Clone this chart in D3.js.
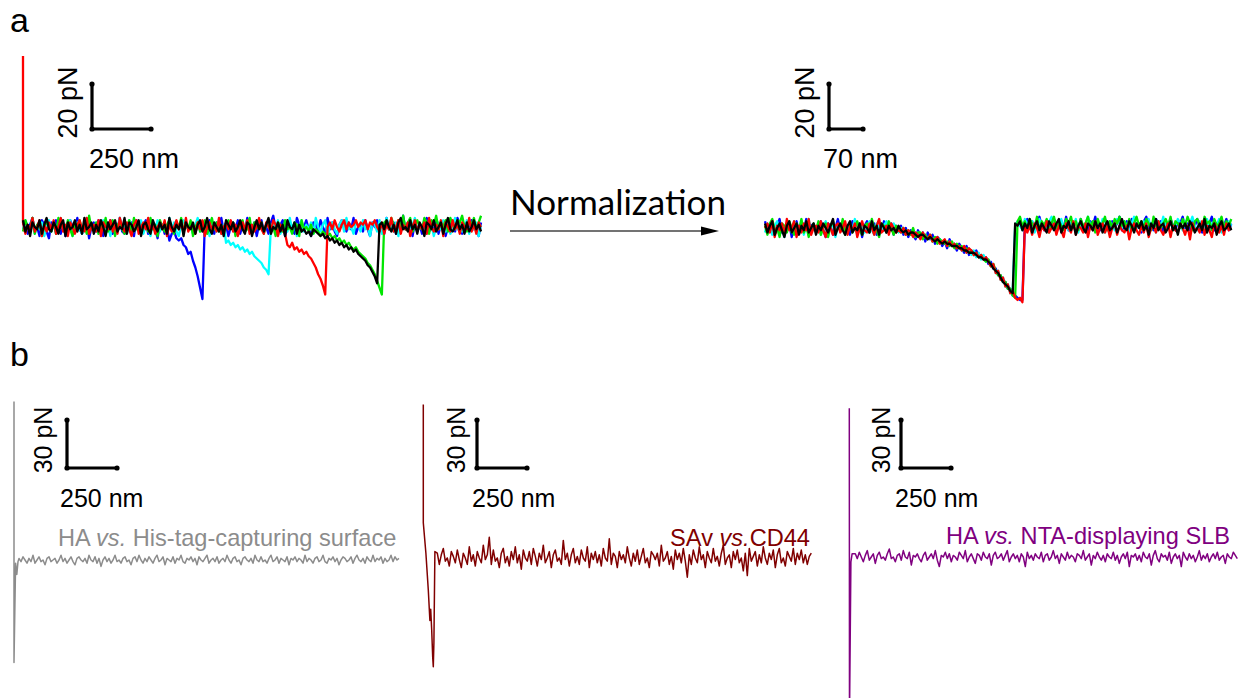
<!DOCTYPE html>
<html lang="en">
<head>
<meta charset="UTF-8">
<title>Force curves - normalization and controls</title>
<script src="https://cdn.jsdelivr.net/npm/d3@7"></script>
<style>
  body { margin: 0; background: #fff; }
  svg { display: block; font-family: "Liberation Sans", Arial, sans-serif; }
  .trace { fill: none; stroke-linejoin: round; }
</style>
</head>
<body>
<svg id="chart" width="1239" height="698"></svg>
<script>
// ---- data (distance in nm, force in pN) ----

// panel a, raw curves: one force value every 10 nm from 0 nm
const aRawStep = 10;
const aRawBlue = [2,-1,-3,1,4,-2,0,-4,3,1, -2,-5,2,0,3,-1,-3,2,-4,1, 3,0,-2,4,-1,-3,1,2,-5,0,
  2,-2,3,-1,-4,1,0,3,-3,2, -1,4,-2,-3,1,0,2,-4,3,-1, -2,1,3,-3,0,2,-1,-5,2,1, -3,0,
  -6,-3,-2,-5,-6,-5,-8,-9,-12,-11,-15,-18,-22,-27,-32,
  1,-2,3,0,-3,2,-1,4,-2,1, -4,0,2,-1,3,-3,1,-2,4,0, -1,2,-4,1,3,-2,0,-3,2,5,
  -1,-2,1,3,-4,0,2,-1,-3,4, 1,-2,0,3,-1,-4,2,1,-2,3, 0,-3,4,-1,2,-2,-4,1,3,0,
  -2,2,-1,4,-3,0,1,-2,3,-1, -4,2,0,3,-2,1,-3,4,-1,0, 2,-3,1,-2,5,-1,0,3,-4,2,
  -1,1,-3,2,4,-2,0,-1,3,-3, 1,2,-4,0,3,-1,-2,4,1,-3, 0,2,-2,3,-1,1,-4,2];
const aRawCyan = [-1,3,0,-2,4,-3,1,-1,2,-4, 0,3,-2,1,-3,2,4,-1,-2,0, 3,-4,1,2,-1,-3,0,4,-2,1,
  -1,2,-3,0,3,-2,1,-4,2,0, -2,4,-1,1,-3,3,0,-2,2,-1, 3,-3,1,0,-4,2,-1,3,-2,1,
  0,-3,4,-1,2,-2,-4,1,3,0, -1,2,-3,1,4,-2,0,-1,3,-4, 2,1,-2,0,-3,1,
  -7,-6,-8,-7,-9,-8,-10,-9,-11,-10,-12,-11,-13,-14,-15,-16,-18,-19,-21,
  0,
  2,-1,3,-3,0,1,-2,4,-1,2, -4,0,3,-2,1,-1,2,-3,4,0, -2,1,3,-4,0,2,-1,-3,1,3,
  -2,4,-1,0,-3,2,1,-2,3,-1, 0,-4,2,1,-2,3,-3,0,4,-1, 1,-2,2,-4,3,0,-1,2,-3,1,
  4,-2,0,-1,3,-3,2,1,-4,0, 2,-1,3,-2,1,-3,0,4,-1,2, -2,0,3,-3,1,-1,2,-4,1];
const aRawRedSpike = [[0, 76]];
const aRawRed = [2,-3,1,-1,4,-2,0,3,-4,1, -2,2,-1,3,-3,0,4,-2,1,-4, 2,0,-3,1,3,-1,-2,4,-3,0,
  1,-2,3,-4,2,0,-1,3,-2,1, -3,4,0,-2,2,-1,-4,1,3,-3, 0,2,-1,4,-2,1,-3,0,2,-1,
  3,-4,1,-2,0,3,-1,2,-3,4, -2,0,1,-3,2,-1,3,-4,0,2, -1,1,-2,4,-3,0,2,-1,3,-2,
  1,-4,0,2,-1,3,-3,1,-2,0, 4,-1,-3,2,0,-2,3,1,-4,1, -1,-3,
  -8,-9,-7,-10,-9,-11,-10,-12,-11,-13,-14,-16,-18,-21,-23,-26,-30,
  0,
  2,-1,3,0,-2,1,3,-1,2,0, 1,3,0,2,1,3,-1,2,1,3, 0,-2,2,-3,1,-1,4,-2,0,3,
  -3,1,-1,2,-4,0,3,-2,1,-1, 2,-3,4,0,-2,1,-1,3,-4,2, 0,-2,3,-1,1,-3,2,0,-1,4, -2,1,-3,2,0];
const aRawGreen = [-2,3,0,-1,4,-3,1,2,-4,0, 3,-1,-2,2,-3,4,0,1,-2,3, -1,-4,2,0,3,-2,1,-3,5,-1,
  0,2,-3,1,-1,4,-2,0,3,-4, 1,2,-1,-3,0,3,-2,4,-1,1, -3,0,2,-2,4,-1,1,-4,3,0,
  -2,1,3,-1,-3,2,0,4,-2,1, -1,3,-4,0,2,-2,1,3,-3,0, 4,-1,2,-2,0,-3,1,3,-1,2,
  -4,0,1,3,-2,-1,4,-3,2,0, -1,2,-3,1,3,-2,0,-4,2,1, -2,3,-1,0,-3,2,1,-4,3,-1,
  0,-2,1,-3,-1,-2,-4,-2,
  -3,-4,-3,-5,-4,-6,-5,-7,-6,-8,-7,-9,-10,-9,-11,-12,-13,-14,-16,-17,-19,-21,-24,-27,-30,
  2,
  3,-1,4,1,-2,3,0,5,-1,2, 4,-2,1,3,0,-1,4,2,-3,3, 1,5,-1,2,0,3,-2,4,1,-1, 3,2,5,0,-2,3,1,4,-1,2, 5];
const aRawBlack = [3,-2,1,-4,2,0,-1,3,-3,1, 4,-1,-2,2,0,-3,1,3,-4,2, -1,0,3,-2,1,-3,4,-1,0,2,
  -3,1,-2,3,0,-4,2,-1,1,3, -2,0,-1,4,-3,2,1,-2,0,3, -4,1,2,-1,-3,3,0,-2,2,-1,
  1,-3,4,0,-2,1,-1,3,-4,2, 0,-1,2,-3,1,3,-2,0,4,-1, -3,2,0,-2,1,-4,3,1,-1,2,
  -2,0,3,-1,-3,2,1,-4,0,3, -1,2,-2,1,4,-3,0,-1,2,-2, 1,-4,3,0,-1,2,-3,1,-2,-1, -3,-2,-4,-1,
  -2,-3,-4,-3,-5,-4,-6,-5,-7,-6,-8,-7,-9,-8,-10,-9,-11,-10,-12,-13,-14,-15,-17,-18,-20,-22,-25,
  1,
  2,-1,3,0,-2,1,-3,2,4,-1, 0,-2,3,-1,1,-3,2,0,-4,2, 1,-1,3,-2,0,2,-3,1,4,-1, -2,0,3,-1,1,-3,2,-2,0,3, -1,1,-2];

// panel a, normalized curves: one force value every 5 nm from 0 nm
const aNormStep = 5;
const aNormBlue = [3,-1,0,2,-3,1,4,-2,0,-1, 2,-4,1,3,-2,0,-1,4,-3,1, 2,-2,0,3,-1,-4,2,1,-3,0,
  4,-1,2,-2,1,-3,3,0,-1,2, -4,1,3,-2,0,2,-3,1,-1,3, -2,0,2,-3,1,-1,
  1,-3,0,-4,-1,-3,-5,-1,-4,-2, -6,-2,-5,-3,-7,-4,-5,-8,-6,-9, -5,-8,-7,-10,-7,-9,-11,-8,-12,-10,
  -12,-10,-13,-12,-14,-13,-16,-15,-18,-18, -21,-21,-24,-24,-27,-27,-30,
  -30,-31,-32,-32,
  2,
  4,0,3,-1,2,5,1,-1,3,0, 2,4,-2,1,3,0,5,-1,2,1, 3,-1,4,0,2,-2,3,1,5,0, -1,2,4,1,-2,3,0,2,5,-1,
  1,3,0,4,-1,2,1,-2,3,5, 0,2,-1,4,1,3,-2,2,0,4, 1,-1,3,2,5,0,2,-1,3,1, 4,0,-2,3,1,2,5,-1,2,0, 3,1,4,-1,2];
const aNormCyan = [-2,2,0,-3,1,3,-1,0,-4,2, 1,-2,3,0,-1,2,-3,1,4,-2, 0,-1,2,-3,1,3,-2,0,2,-4,
  1,-1,3,0,-2,2,-1,4,-3,0, 2,-2,1,3,-1,-3,2,0,-1,1, 3,-2,0,2,-1,-2,
  0,-2,-1,-3,-2,-1,-4,-2,-3,-4, -3,-5,-4,-6,-4,-6,-5,-7,-6,-8, -6,-8,-7,-9,-8,-10,-9,-11,-9,-12,
  -10,-13,-11,-14,-12,-15,-14,-17,-16,-20, -19,-23,-22,-26,-25,-29,-28,
  1,
  3,1,-1,4,2,0,3,-2,1,4, 0,2,-1,3,5,1,-1,2,4,0, 3,-1,2,1,4,-2,3,0,2,5, 1,-1,3,2,0,4,-2,2,3,1,
  -1,4,2,0,3,1,-2,2,5,0, 2,-1,3,1,4,0,2,-2,3,1, 5,0,2,3,-1,1,4,2,-1,3, 0,2,5,1,-1,3,2,0,4,-1, 2,3,1,4,-2,2,0,3,1];
const aNormGreen = [1,-3,2,4,-1,0,-4,2,1,-2, 3,0,-3,2,-1,4,-2,1,-4,0, 2,-1,3,-3,0,2,-4,1,3,-2,
  0,-1,4,-3,1,2,-2,0,3,-1, -3,1,2,-2,4,0,-1,-4,2,1, -2,3,0,-3,1,-1,
  -2,0,-3,-1,-3,0,-4,-2,-2,-5, -3,-5,-3,-6,-4,-7,-5,-6,-7,-6, -8,-6,-9,-7,-9,-8,-10,-9,-11,-10,
  -12,-11,-13,-12,-14,-15,-14,-17,-16,-19, -21,-21,-24,-24,-27,-27,-30,
  -31,
  3,
  5,1,3,-1,4,2,0,5,-1,3, 1,4,-2,2,5,0,3,1,-1,4, 2,5,0,3,-1,4,1,2,5,0, 3,-2,4,1,2,5,-1,3,0,4,
  2,5,1,3,0,4,-1,2,5,1, 3,0,4,2,-1,5,1,3,0,2, 4,1,5,-1,3,2,0,4,1,5, 2,-1,3,4,1,0,5,2,3,-1, 4,1,2,5,0,3,1,4];
const aNormRed = [0,2,-2,3,-4,1,-1,2,-3,4, -1,0,3,-4,1,-2,2,-1,4,-3, 0,1,-2,3,-1,-4,2,0,-3,1,
  2,-2,0,3,-3,1,-1,2,-4,0, 3,-1,-2,2,0,-3,1,4,-2,-1, 1,-3,2,0,-2,-1,
  -2,0,-3,-1,-2,-4,-2,-3,-5,-2, -4,-5,-3,-6,-5,-4,-7,-6,-5,-8, -6,-8,-7,-9,-8,-10,-8,-11,-9,-10,
  -12,-11,-13,-12,-14,-13,-15,-17,-16,-20, -19,-23,-22,-26,-25,-29,-28,
  -31,-32,-31,-33,
  1,
  -2,1,-3,2,0,-4,1,-1,3,-2, 0,2,-3,1,-1,-4,2,0,-2,3, -3,1,0,-2,2,-4,1,-1,3,-3, 0,2,-2,1,-4,0,2,-3,1,-1,
  -2,1,-5,0,2,-1,-3,1,-2,2, -4,0,1,-2,3,-1,-3,0,2,-4, 1,-1,-2,2,0,-3,1,-5,2,-1, 0,-2,3,-3,1,-1,-4,2,0,-2, 1,-3,2,-1,0];
const aNormBlack = [2,-2,1,3,-3,0,2,-1,-4,1, 3,-2,0,2,-3,1,-1,3,-2,0, 2,-3,1,-1,2,0,-2,1,4,-3,
  0,2,-1,-3,1,3,-2,0,-1,2, -3,1,0,-2,3,-1,1,-3,2,0, -2,1,-1,0,-2,1,
  -1,-2,-1,-3,-2,-2,-3,-4,-3,-3, -4,-5,-4,-5,-6,-5,-6,-7,-6,-7, -7,-8,-8,-8,-9,-9,-10,-10,-11,-11,
  -11,-12,-13,-13,-14,-14,-15,-16,-18,-19, -20,-22,-24,-25,-26,-28,-29,
  2,
  1,3,-1,2,0,4,-2,1,3,-1, 2,0,-2,3,1,-1,2,4,-2,1, 0,3,-1,2,-3,1,3,0,-2,2, 1,-1,3,0,2,-2,1,3,-1,0,
  2,-2,1,4,0,-1,3,1,-2,2, 0,3,-1,1,-3,2,0,4,-1,1, 2,-2,0,3,-1,1,-3,2,0,2, -1,3,1,-2,0,2,-1,4,-2,1, 0,2,-3,1,3,-1,0,2,-1];

// panel b: approach head as [nm, pN] pairs, then one value every 10 nm
const bStep = 10;
const bHisHead = [[0, 99], [0, -64], [8, -2], [14, -9], [20, -1]];
const bHisStart = 25;
const bHis = [1,-1,2,0,-2,1,-1,3,-2,0, 2,-1,0,-3,1,2,-1,0,1,-2, 0,3,-1,1,-2,0,2,-1,-3,1,
  2,0,-1,1,-2,3,0,-1,2,-2, 1,-4,0,2,-1,1,-2,0,3,-1, 0,-2,1,2,-1,0,-3,1,2,-1,
  3,0,-2,1,-1,2,0,-2,1,3, -1,0,2,-3,1,0,-1,2,-2,1, 0,3,-1,-2,1,0,2,-1,1,-3,
  2,0,-1,1,3,-2,0,1,-1,2, -2,0,1,-1,3,0,-2,1,2,-1, 0,-3,1,2,0,-1,1,-2,3,0,
  -1,2,-1,0,-2,1,3,-1,0,2, -2,1,0,-1,2,-3,1,0,2,-1, 1,0,-2,3,-1,1,0,-2,1,2,
  -1,0,3,-1,-2,1,0,2,-1,1, -3,0,2,1,-1,0,2,-2,1,3, 0,-1,1,-2,2,0,-1,3,-1,1,
  0,2,-2,1,-1,0,3,-1,2,0, 1];
const bCdHead = [[0, 96], [0, 22], [13, 3], [25, -20], [30, -32], [33, -39], [37, -32], [42, -45], [47, -62], [50, -68], [53, -53], [58, 4]];
const bCdStart = 70;
const bCd = [3,-4,2,6,-2,0,-5,4,1,-3, 5,-1,-6,3,0,-4,7,-2,2,-5, 4,0,-3,8,-1,2,13,-4,5,-2,
  0,-6,3,6,-3,1,-5,4,-1,7, -3,2,-7,5,0,-2,4,-4,6,1, -5,3,-1,8,-3,0,4,-6,2,5,
  -2,0,-4,11,-1,3,-5,2,6,-3, 1,-4,5,0,-2,7,-6,3,-1,4, -3,2,-5,6,0,-2,12,-4,3,1,
  -6,4,-1,2,-3,7,0,-5,3,-2, 5,-4,1,6,-3,0,-6,4,2,-1, 3,-5,8,-2,0,4,-4,1,-7,5,
  -1,3,-3,6,-2,-12,2,-4,5,0, -3,7,-1,2,-6,4,0,-3,6,-2, 1,-5,3,8,-4,0,2,-6,4,-1,
  5,-3,0,-8,3,-11,6,-2,1,4, -5,2,-3,7,0,-4,3,-1,5,-6, 2,6,-3,0,-5,4,1,-2,6,-4, 3,-1,5,-3,2,-4,1,3];
const bSlbHead = [[0, 93], [1, -100], [8, -3], [14, 2]];
const bSlbStart = 30;
const bSlb = [2,-1,3,0,-3,1,4,-2,0,2, -4,1,3,-1,0,-2,2,5,-1,0, -3,1,2,-2,4,0,-1,3,-5,1,
  0,2,-1,-3,1,3,-2,0,2,-1, 4,-2,-6,1,0,3,-1,2,-3,1, 0,-2,3,1,-1,4,-3,0,2,-1,
  -4,2,1,-2,3,0,-1,2,-5,1, 3,-1,0,2,-2,1,4,-3,0,2, -1,1,-3,2,0,-6,3,-1,1,-2,
  2,0,-1,3,-3,1,2,-2,0,4, -1,1,-4,2,0,-2,3,-1,1,0, -3,2,1,-1,4,-2,0,2,-5,1,
  -1,3,0,-2,1,-3,2,0,-1,3, -2,1,-4,0,2,-1,3,-6,1,0, 2,-2,1,-3,3,0,-1,2,-5,1,
  4,-1,-3,2,0,1,-2,3,-4,0, 2,-1,1,-6,3,0,-2,2,-1,1, -3,0,4,-2,1,-1,2,-3,0,2,
  -1,3,-2,0,1,-4,2,0,-1,3, 1,-1];

// ---- drawing ----
const svg = d3.select("#chart");

// each panel: where 0 nm / 0 pN sits and how many px per unit
function makeScales(x0, y0, pxPerNm, pxPerPn) {
    return {
        x: d3.scaleLinear().domain([0, 1000]).range([x0, x0 + 1000 * pxPerNm]),
        y: d3.scaleLinear().domain([0, 10]).range([y0, y0 - 10 * pxPerPn])
    };
}

const aRaw = makeScales(23, 227, 0.2361, 2.25);
const aNorm = makeScales(765, 228, 0.4857, 2.25);
const bHisSc = makeScales(14, 560, 0.2, 1.6);
const bCdSc = makeScales(423.3, 558, 0.2, 1.6);
const bSlbSc = makeScales(849.3, 557, 0.2, 1.6);

function toPoints(head, forces, start, step) {
    return head.concat(forces.map((f, i) => [start + i * step, f]));
}

function drawTrace(sc, points, color, width) {
    const line = d3.line().x(d => sc.x(d[0])).y(d => sc.y(d[1]));
    svg.append("path")
        .attr("class", "trace")
        .attr("d", line(points))
        .attr("stroke", color)
        .attr("stroke-width", width);
}

// scale bar: corner at (cx, cy), lengths from panel scales
function scaleBar(sc, cx, cy, nm, pn, nmText, pnText, fontSize, pnX, nmDx) {
    const w = sc.x(nm) - sc.x(0);
    const h = sc.y(0) - sc.y(pn);
    const g = svg.append("g");
    g.append("path")
        .attr("d", `M${cx},${cy - h}V${cy}H${cx + w}`)
        .attr("fill", "none").attr("stroke", "#000").attr("stroke-width", 3.2);
    [[cx, cy - h], [cx, cy], [cx + w, cy]].forEach(p => {
        g.append("circle").attr("cx", p[0]).attr("cy", p[1]).attr("r", 2.6).attr("fill", "#000");
    });
    g.append("text")
        .attr("transform", `translate(${pnX},${cy - h / 2 - 4}) rotate(-90)`)
        .attr("text-anchor", "middle")
        .style("font-size", fontSize + "px")
        .text(pnText);
    g.append("text")
        .attr("x", cx + nmDx).attr("y", cy + 39)
        .style("font-size", fontSize + "px")
        .text(nmText);
}

// panel a - raw curves
const wA = 2.3;
drawTrace(aRaw, toPoints([], aRawBlue, 0, aRawStep), "#0000ff", wA);
drawTrace(aRaw, toPoints([], aRawCyan, 0, aRawStep), "#00ffff", wA);
drawTrace(aRaw, toPoints([], aRawGreen, 0, aRawStep), "#00e600", wA);
drawTrace(aRaw, toPoints(aRawRedSpike, aRawRed, 0, aRawStep), "#ff0000", wA);
drawTrace(aRaw, toPoints([], aRawBlack, 0, aRawStep), "#000000", wA);
scaleBar(aRaw, 92, 129, 250, 20, "250 nm", "20 pN", 27, 77, -3);

// panel a - normalized curves
drawTrace(aNorm, toPoints([], aNormBlue, 0, aNormStep), "#0000ff", wA);
drawTrace(aNorm, toPoints([], aNormCyan, 0, aNormStep), "#00ffff", wA);
drawTrace(aNorm, toPoints([], aNormGreen, 0, aNormStep), "#00e600", wA);
drawTrace(aNorm, toPoints([], aNormRed, 0, aNormStep), "#ff0000", wA);
drawTrace(aNorm, toPoints([], aNormBlack, 0, aNormStep), "#000000", wA);
scaleBar(aNorm, 829, 129, 70, 20, "70 nm", "20 pN", 27, 814, -6);

// normalization arrow
svg.append("text")
    .attr("x", 510).attr("y", 215)
    .attr("textLength", 216).attr("lengthAdjust", "spacingAndGlyphs")
    .style("font-family", "Lato, 'Open Sans', sans-serif")
    .style("font-size", "34px")
    .text("Normalization");
svg.append("line")
    .attr("x1", 510).attr("y1", 231).attr("x2", 704).attr("y2", 231)
    .attr("stroke", "#444").attr("stroke-width", 1.4);
svg.append("path")
    .attr("d", "M701,226.5L719,231L701,235.5Z")
    .attr("fill", "#000");

// panel b - controls
drawTrace(bHisSc, toPoints(bHisHead, bHis, bHisStart, bStep), "#8c8c8c", 1.5);
drawTrace(bCdSc, toPoints(bCdHead, bCd, bCdStart, bStep), "#800000", 1.5);
drawTrace(bSlbSc, toPoints(bSlbHead, bSlb, bSlbStart, bStep), "#800080", 1.5);
scaleBar(bHisSc, 67, 468, 250, 30, "250 nm", "30 pN", 25, 52, -7);
scaleBar(bCdSc, 477, 468, 250, 30, "250 nm", "30 pN", 25, 465, -5);
scaleBar(bSlbSc, 901, 468, 250, 30, "250 nm", "30 pN", 25, 890, -6);

function caption(x, y, anchor, color, before, after) {
    const t = svg.append("text")
        .attr("x", x).attr("y", y)
        .attr("text-anchor", anchor)
        .attr("fill", color)
        .style("font-size", "23.6px");
    t.append("tspan").text(before);
    t.append("tspan").style("font-style", "italic").text("vs.");
    t.append("tspan").text(after);
}
caption(58, 546, "start", "#8c8c8c", "HA ", " His-tag-capturing surface");
caption(810, 546, "end", "#800000", "SAv ", "CD44");
caption(1230, 544, "end", "#800080", "HA ", " NTA-displaying SLB");

// panel letters
svg.append("text").attr("x", 10).attr("y", 32).style("font-size", "34px").text("a");
svg.append("text").attr("x", 10).attr("y", 366).style("font-size", "34px").text("b");
</script>
</body>
</html>
